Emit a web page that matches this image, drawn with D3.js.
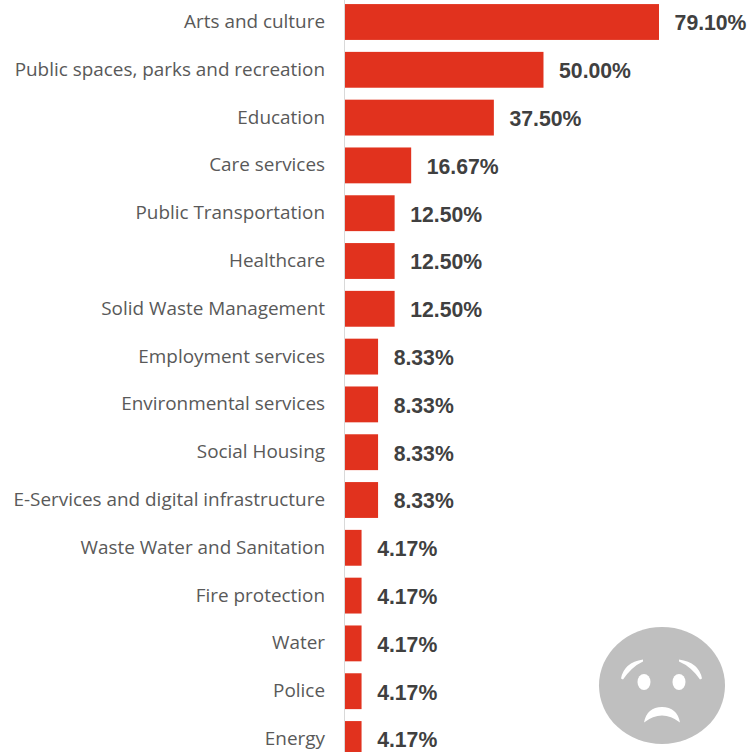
<!DOCTYPE html>
<html>
<head>
<meta charset="utf-8">
<script src="https://cdnjs.cloudflare.com/ajax/libs/d3/7.8.5/d3.min.js"></script>
<style>
html,body{margin:0;padding:0;background:#fff;overflow:hidden}
svg{display:block}
.cat{font-family:"Open Sans",sans-serif;font-size:18.9px;fill:#595959}
.val{font-family:"Liberation Sans",Arial,sans-serif;font-size:21.2px;font-weight:bold;fill:#404040}
</style>
</head>
<body>
<svg id="chart" width="751" height="752"></svg>
<script>
// Share of respondents per service area
const categories = ["Arts and culture","Public spaces, parks and recreation","Education","Care services","Public Transportation","Healthcare","Solid Waste Management","Employment services","Environmental services","Social Housing","E-Services and digital infrastructure","Waste Water and Sanitation","Fire protection","Water","Police","Energy"];
const values = [79.10,50.00,37.50,16.67,12.50,12.50,12.50,8.33,8.33,8.33,8.33,4.17,4.17,4.17,4.17,4.17];

const svg = d3.select("#chart");
const x = d3.scaleLinear().domain([0,79.1]).range([345,659]);
const y = d3.scaleBand().domain(categories).range([-1.9,762.9]).paddingInner(0.25).paddingOuter(0.125);

// Vertical baseline
svg.append("line").attr("x1",344.5).attr("x2",344.5).attr("y1",0).attr("y2",752)
  .attr("stroke","#d9d9d9").attr("stroke-width",1);

svg.selectAll("rect.bar").data(categories).join("rect").attr("class","bar")
  .attr("x",x(0)).attr("y",d=>y(d)).attr("height",y.bandwidth())
  .attr("width",(d,i)=>x(values[i])-x(0)).attr("fill","#e1321e");

svg.selectAll("text.cat").data(categories).join("text").attr("class","cat")
  .attr("x",325).attr("y",d=>y(d)+y.bandwidth()/2-0.7).attr("dy","0.35em")
  .attr("text-anchor","end").text(d=>d);

svg.selectAll("text.val").data(categories).join("text").attr("class","val")
  .attr("x",(d,i)=>x(values[i])+15.6).attr("y",d=>y(d)+y.bandwidth()/2+1).attr("dy","0.35em")
  .text((d,i)=>values[i].toFixed(2)+"%");

// Worried face badge
const face = svg.append("g").attr("transform","translate(662,685.5)");
face.append("ellipse").attr("rx",63).attr("ry",58.5).attr("fill","#bfbfbf");
face.append("ellipse").attr("cx",-18).attr("cy",-3.5).attr("rx",6.5).attr("ry",8).attr("fill","#fff");
face.append("ellipse").attr("cx",17).attr("cy",-3.5).attr("rx",6.5).attr("ry",8).attr("fill","#fff");
face.append("path").attr("fill","#fff").attr("d","M-41,-7 Q-38,-23 -19,-26 L-19,-24 Q-30,-19 -39,-6Z");
face.append("path").attr("fill","#fff").attr("d","M40,-7 Q37,-23 17,-26 L17,-24 Q29,-19 38,-6Z");
face.append("path").attr("fill","#fff").attr("d","M-18,37 Q-15,21.5 0,21.5 Q15,21.5 18,37 Q9,30 0,30 Q-9,30 -18,37Z");
</script>
</body>
</html>
